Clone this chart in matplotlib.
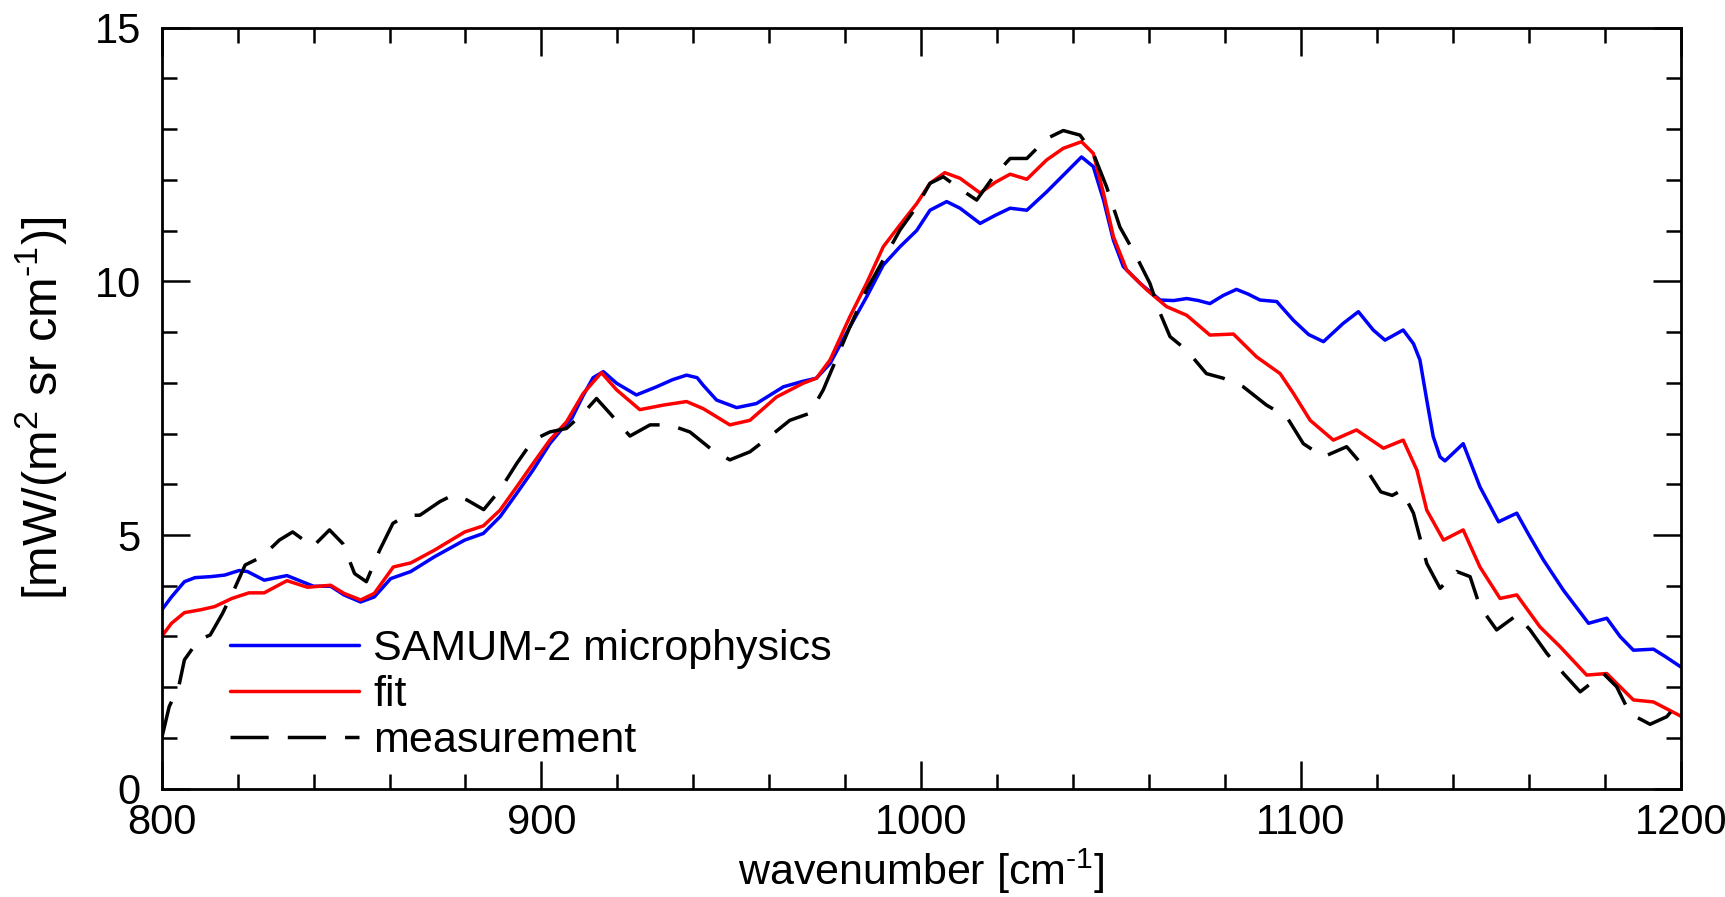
import matplotlib
matplotlib.use("Agg")
import matplotlib.pyplot as plt
from matplotlib.ticker import MultipleLocator

plt.rcParams['font.family'] = ['Liberation Sans', 'DejaVu Sans']
plt.rcParams['mathtext.fontset'] = 'custom'
plt.rcParams['mathtext.rm'] = 'Liberation Sans'
plt.rcParams['mathtext.it'] = 'Liberation Sans:italic'
plt.rcParams['mathtext.bf'] = 'Liberation Sans:bold'

# SAMUM-2 microphysics model radiance
wn_model = [800, 802.6, 806, 808.8, 813, 816.6, 820.4, 822.6, 827, 833, 840, 844.5, 848,
            852.4, 856, 860.3, 865.6, 871.8, 879.8, 884.7, 889.1, 893.5, 897.8, 902.2,
            905.5, 908, 911, 913.6, 916.3, 919.8, 925.0, 930.3, 934.5, 938.2, 941, 942.6,
            946.1, 951.4, 956.6, 963.7, 968.9, 972.4, 976, 981.2, 985.6, 990, 994.4, 998.8,
            1002.3, 1006.7, 1010.2, 1015.5, 1019.5, 1023.4, 1027.8, 1033, 1037.4, 1042.2,
            1045.3, 1048, 1050.6, 1053.2, 1057.6, 1062.9, 1066.5, 1069.9, 1073, 1076,
            1079.5, 1083, 1086, 1089.2, 1093.6, 1098, 1102, 1105.9, 1111.1, 1115.1,
            1119.0, 1122.1, 1126.9, 1129.6, 1131.3, 1133.1, 1134.8, 1136.6, 1137.9,
            1142.7, 1147.1, 1152, 1156.8, 1160, 1163.8, 1169.1, 1175.7, 1180.5, 1184,
            1187.5, 1192.8, 1196, 1200]
rad_model = [3.52, 3.78, 4.08, 4.16, 4.18, 4.21, 4.30, 4.28, 4.11, 4.20, 3.99, 3.99, 3.82,
             3.68, 3.78, 4.14, 4.28, 4.57, 4.90, 5.03, 5.36, 5.82, 6.28, 6.80,
             7.10, 7.30, 7.75, 8.10, 8.22, 7.99, 7.76, 7.92, 8.06, 8.15, 8.10, 7.95,
             7.66, 7.51, 7.59, 7.92, 8.03, 8.09, 8.38, 9.10, 9.69, 10.32, 10.68, 11.0,
             11.40, 11.57, 11.44, 11.14, 11.30, 11.44, 11.40, 11.76, 12.09, 12.45,
             12.26, 11.60, 10.81, 10.29, 9.96, 9.63, 9.62, 9.66, 9.62, 9.56,
             9.72, 9.84, 9.75, 9.63, 9.60, 9.23, 8.95, 8.81, 9.17, 9.40,
             9.04, 8.84, 9.04, 8.77, 8.45, 7.66, 6.94, 6.54, 6.46,
             6.80, 5.95, 5.26, 5.43, 5.0, 4.51, 3.91, 3.26, 3.36, 3.0,
             2.73, 2.75, 2.6, 2.40]

# fitted radiance
wn_fit = [800, 802.6, 806, 810.5, 814, 818.5, 823, 827, 833, 838.4, 844.5, 848, 852.4, 856,
          861, 865.6, 871.8, 879.8, 884.7, 889.1, 893.5, 897.8, 902.2, 906.6, 911, 915.8,
          919.8, 925.9, 932.1, 938.2, 942.6, 949.6, 954.9, 961.9, 968.9, 972.4, 976,
          981.2, 985.6, 990, 994.4, 998.8, 1002.3, 1006.2, 1010.2, 1015.5, 1019.5, 1023.4,
          1027.8, 1033, 1037.4, 1042.2, 1045.3, 1048, 1050.6, 1054.1, 1059.4, 1064.6,
          1069.9, 1076, 1082.2, 1088.3, 1094.5, 1098, 1102.4, 1108.5, 1114.6, 1121.7,
          1126.9, 1130.5, 1133.1, 1137.5, 1142.7, 1147.1, 1152.4, 1156.8, 1162.9, 1168.2,
          1175.2, 1180.5, 1187.5, 1192.8, 1200]
rad_fit = [3.0, 3.26, 3.47, 3.53, 3.59, 3.75, 3.86, 3.86, 4.10, 3.97, 4.01, 3.85, 3.72, 3.85,
           4.37, 4.45, 4.70, 5.06, 5.18, 5.49, 5.95, 6.41, 6.87, 7.23, 7.79, 8.20,
           7.86, 7.47, 7.56, 7.63, 7.49, 7.17, 7.26, 7.72, 7.99, 8.09, 8.45,
           9.30, 9.96, 10.68, 11.11, 11.53, 11.93, 12.14, 12.03, 11.74, 11.95, 12.11,
           12.01, 12.39, 12.62, 12.75, 12.52, 11.73, 10.88, 10.22, 9.83, 9.50,
           9.33, 8.94, 8.96, 8.51, 8.18, 7.79, 7.26, 6.87, 7.07, 6.71,
           6.87, 6.28, 5.49, 4.90, 5.10, 4.37, 3.75, 3.82, 3.19, 2.80,
           2.24, 2.27, 1.75, 1.71, 1.43]

# measured radiance
wn_meas = [800, 802, 804.5, 806, 809.7, 812.8, 816, 819, 822, 826.4, 831, 834.5, 839.8, 844.2,
           847.7, 850.8, 853.9, 857.4, 860.9, 864.5, 868, 873.3, 876.8, 880.4, 884.8,
           889.1, 893.5, 897.8, 902.2, 906.6, 911.0, 914.5, 918.0, 923.3, 928.6, 933.8,
           939.1, 944.4, 949.6, 954.9, 960.1, 965.4, 970.7, 974.2, 976.8, 981.2, 985.6,
           990, 994.4, 998.8, 1002.3, 1005.8, 1010.2, 1014.6, 1019, 1023.4, 1027.8, 1033,
           1037.4, 1041.8, 1045.3, 1048.8, 1052.3, 1056.7, 1060.2, 1062.9, 1065.5, 1069.9,
           1075.1, 1079.5, 1084.8, 1090.9, 1096.2, 1100.6, 1105.9, 1112.0, 1117.3, 1121,
           1124, 1126.5, 1129.6, 1133.1, 1136.6, 1141, 1144.5, 1147.1, 1151.5, 1156.8,
           1160.3, 1164.7, 1169.1, 1173.5, 1179.6, 1183.1, 1186.6, 1191.9, 1196.3, 1200]
rad_meas = [0.99, 1.62, 2.01, 2.54, 2.93, 3.03, 3.45, 3.91, 4.41, 4.57, 4.90, 5.06, 4.77, 5.10,
            4.83, 4.24, 4.08, 4.70, 5.23, 5.39, 5.39, 5.66, 5.79, 5.69, 5.50,
            5.89, 6.41, 6.87, 7.03, 7.10, 7.40, 7.69, 7.40, 6.95, 7.17, 7.17,
            7.03, 6.71, 6.48, 6.64, 6.94, 7.26, 7.40, 7.86, 8.32, 9.10, 9.83,
            10.42, 11.01, 11.47, 11.93, 12.06, 11.82, 11.60, 12.06, 12.42, 12.42, 12.81,
            12.97, 12.88, 12.52, 11.86, 11.07, 10.48, 9.96, 9.37, 8.91, 8.64,
            8.18, 8.09, 7.92, 7.56, 7.33, 6.80, 6.54, 6.74, 6.28, 5.85,
            5.78, 5.88, 5.43, 4.44, 3.95, 4.28, 4.18, 3.59, 3.13, 3.42,
            3.13, 2.67, 2.27, 1.91, 2.27, 2.01, 1.48, 1.27, 1.42, 1.75]

fig = plt.figure(figsize=(17.25, 8.97), dpi=100)
ax = fig.add_axes([0.0937, 0.1207, 0.8807, 0.8486])

lw = 2.5
style = dict(lw=lw, solid_joinstyle='round', solid_capstyle='round',
             dash_joinstyle='round')
ax.plot(wn_model, rad_model, color='#0000ff', label='SAMUM-2 microphysics', **style)
ax.plot(wn_fit, rad_fit, color='#ff0000', label='fit', **style)
ax.plot(wn_meas, rad_meas, color='black', dashes=(11, 5.5), label='measurement', **style)

ax.set_xlim(800, 1200)
ax.set_ylim(0, 15)
ax.xaxis.set_major_locator(MultipleLocator(100))
ax.xaxis.set_minor_locator(MultipleLocator(20))
ax.yaxis.set_major_locator(MultipleLocator(5))
ax.yaxis.set_minor_locator(MultipleLocator(1))

for s in ax.spines.values():
    s.set_linewidth(2.0)
ax.tick_params(which='both', direction='in', top=True, right=True, width=1.8,
               labelsize=30)
ax.tick_params(which='major', length=20)
ax.tick_params(which='minor', length=10.5)
ax.tick_params(axis='x', which='major', pad=10)
ax.tick_params(axis='y', which='major', pad=15)

ax.set_xlabel('wavenumber [cm$^{\\text{-}1}$]', fontsize=31, labelpad=3)
ax.set_ylabel('[mW/(m$^2$ sr cm$^{\\text{-}1}$)]', fontsize=35, labelpad=18)

ax.legend(loc='center left', bbox_to_anchor=(0.045, 0.123), frameon=False,
          fontsize=31, handlelength=3.0, handletextpad=0.33, labelspacing=0.14,
          borderpad=0, borderaxespad=0)

fig.savefig('out.png', dpi=100)
